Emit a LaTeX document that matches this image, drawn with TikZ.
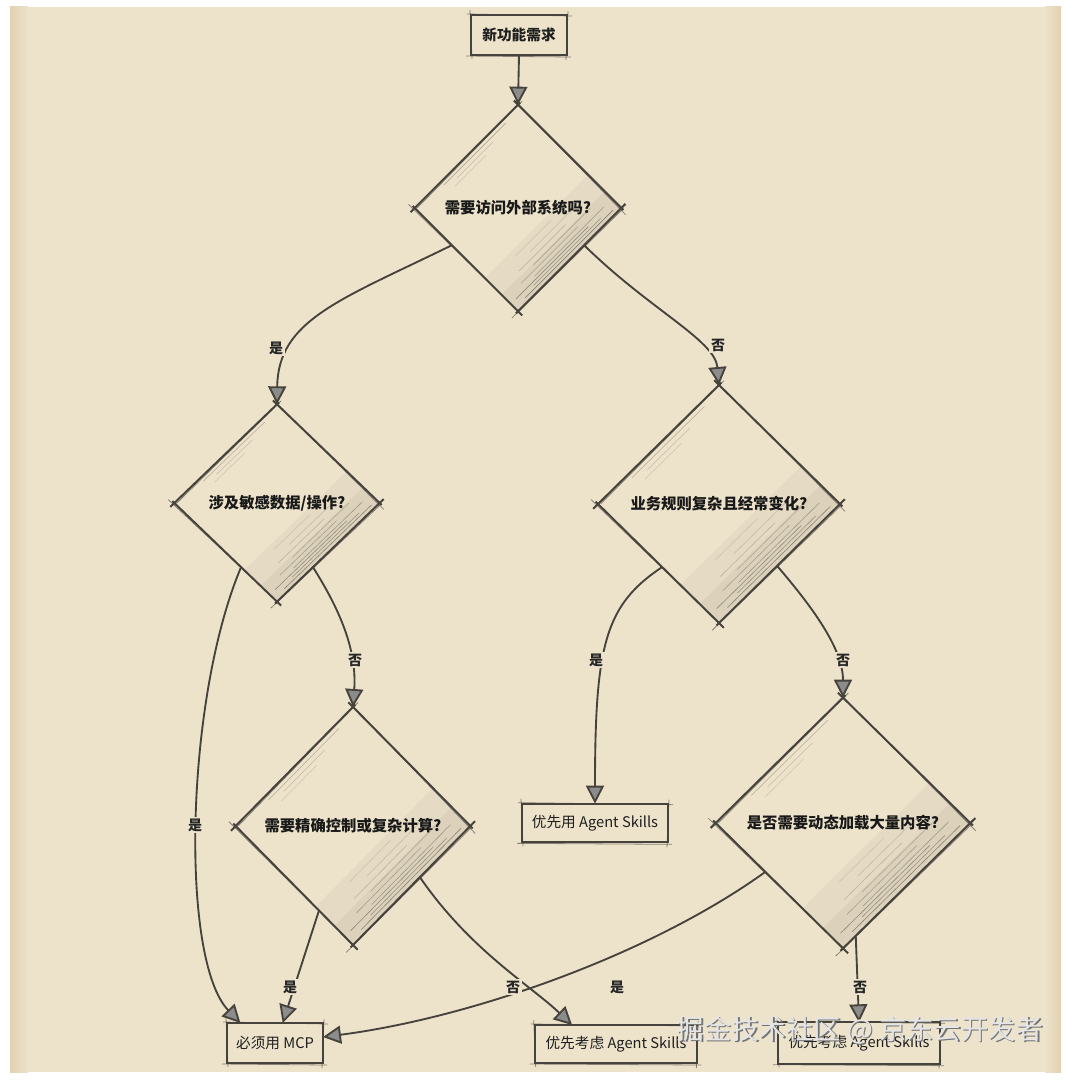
\documentclass[tikz,border=0pt]{standalone}
\usepackage{fontspec}
\newfontfamily\cjk{Noto Sans CJK SC}
\usetikzlibrary{shapes.geometric,arrows.meta,calc}
\definecolor{paper}{RGB}{237,227,203}
\definecolor{paperedge}{RGB}{224,209,176}
\definecolor{pencil}{RGB}{70,66,60}
\tikzset{
  dia/.style={shape=diamond, inner sep=0pt, outer sep=0pt, fill=paper, text=black!90,
    font=\cjk\bfseries\fontsize{11.5}{13}\selectfont},
  box/.style={rectangle, draw=pencil, line width=1.3pt, fill=paper, inner sep=0pt, outer sep=0pt,
    text=black!88, font=\cjk\fontsize{11}{13}\selectfont},
  conn/.style={draw=pencil, line width=1.4pt,
    -{Triangle[length=13.5pt,width=13.5pt,fill=black!45]}},
  lab/.style={fill=paper, inner sep=1.2pt, text=black!85,
    font=\cjk\bfseries\fontsize{10.5}{12}\selectfont},
  thinpencil/.style={draw=pencil, line width=0.6pt, opacity=0.6},
}
\newcommand\sketchdia[1]{%
  \foreach \p/\q in {north/east, east/south, south/west, west/north} {
    \draw[pencil, line width=1.5pt] ($(#1.\p)!-0.04!(#1.\q)$) -- ($(#1.\q)!-0.02!(#1.\p)$);
    \draw[thinpencil] ($($(#1.\p)!0.01!(#1.\q)$)+(1.5,1)$) -- ($($(#1.\q)!-0.05!(#1.\p)$)+(-1,1.5)$);
  }}
\newcommand\dshade[1]{%
  \begin{scope}
    \clip (#1.north) -- (#1.east) -- (#1.south) -- (#1.west) -- cycle;
    \fill[black, opacity=0.03] (#1.south) -- (#1.east) -- ($(#1.east)!0.32!(#1.north)$) -- ($(#1.south)!0.32!(#1.west)$) -- cycle;
    \fill[black, opacity=0.04] (#1.south) -- (#1.east) -- ($(#1.east)!0.16!(#1.north)$) -- ($(#1.south)!0.16!(#1.west)$) -- cycle;
    \foreach \t/\a/\b/\o in {0.03/0.10/0.95/0.55, 0.05/0.20/0.85/0.45, 0.07/0.05/0.75/0.5,
        0.09/0.25/0.92/0.4, 0.12/0.15/0.70/0.35, 0.15/0.30/0.85/0.3, 0.19/0.20/0.65/0.25,
        0.23/0.35/0.80/0.2, 0.28/0.25/0.60/0.15} {
      \draw[pencil, line width=0.45pt, opacity=\o]
        ($($(#1.south)!\t!(#1.west)$)!\a!($(#1.east)!\t!(#1.north)$)$) --
        ($($(#1.south)!\t!(#1.west)$)!\b!($(#1.east)!\t!(#1.north)$)$);
    }
    \foreach \t/\a/\b/\o in {0.03/0.25/0.85/0.35, 0.06/0.35/0.70/0.25, 0.09/0.30/0.60/0.2} {
      \draw[pencil, line width=0.4pt, opacity=\o]
        ($($(#1.west)!\t!(#1.south)$)!\a!($(#1.north)!\t!(#1.east)$)$) --
        ($($(#1.west)!\t!(#1.south)$)!\b!($(#1.north)!\t!(#1.east)$)$);
    }
  \end{scope}}
\newcommand\sketchbox[1]{%
  \draw[thinpencil] ($(#1.north west)+(-4,-1)$) -- ($(#1.north east)+(5,1)$);
  \draw[thinpencil] ($(#1.north east)+(1,-4)$) -- ($(#1.south east)+(-1,5)$);
  \draw[thinpencil] ($(#1.south east)+(4,2)$) -- ($(#1.south west)+(-5,1)$);
  \draw[thinpencil] ($(#1.south west)+(1,4)$) -- ($(#1.north west)+(-1,-5)$);
}
\begin{document}
\begin{tikzpicture}[x=0.75pt, y=-0.75pt]
\useasboundingbox (0,0) rectangle (1074,1088);
% background
\fill[white] (0,0) rectangle (1074,1088);
\fill[paper] (10,7) rectangle (1061,1072);
\shade[left color=paperedge, right color=paper] (10,7) rectangle (28,1072);
\shade[left color=paper, right color=paperedge] (1045,7) rectangle (1061,1072);

% nodes
\node[box, minimum width=72pt, minimum height=30pt, font=\cjk\bfseries\fontsize{11}{13}\selectfont] (start) at (519,35) {新功能需求};
\node[dia, minimum width=155pt, minimum height=155pt] (d1) at (518,208) {需要访问外部系统吗?};
\node[dia, minimum width=154pt, minimum height=148pt] (d2) at (277,503) {涉及敏感数据/操作?};
\node[dia, minimum width=181.5pt, minimum height=178.5pt] (d3) at (719,504) {业务规则复杂且经常变化?};
\node[dia, minimum width=176pt, minimum height=178.5pt] (d4) at (353,826) {需要精确控制或复杂计算?};
\node[dia, minimum width=191pt, minimum height=188pt] (d5) at (843,823) {是否需要动态加载大量内容?};
\node[box, minimum width=109.5pt, minimum height=29pt] (b1) at (595,823) {优先用 Agent Skills};
\node[box, minimum width=72pt, minimum height=30pt] (mcp) at (275,1043) {必须用 MCP};
\node[box, minimum width=122pt, minimum height=28.5pt] (b2) at (616,1044) {优先考虑 Agent Skills};
\node[box, minimum width=121.5pt, minimum height=31pt] (b3) at (859,1043) {优先考虑 Agent Skills};

% diamond decoration
\foreach \d in {d1,d2,d3,d4,d5} { \dshade{\d} \sketchdia{\d} }
\foreach \b in {start,b1,mcp,b2,b3} { \sketchbox{\b} }

% connectors
\draw[conn] (start.south) -- (d1.north);
\draw[conn] ($(d1.west)!0.36!(d1.south)$) .. controls (340,300) and (278,320) .. (d2.north);
\draw[conn] ($(d1.east)!0.36!(d1.south)$) .. controls (650,310) and (715,340) .. (d3.north);
\draw[conn] ($(d2.west)!0.65!(d2.south)$) .. controls (185,700) and (180,960) .. ($(mcp.north west)!0.14!(mcp.north east)$);
\draw[conn] ($(d2.east)!0.65!(d2.south)$) .. controls (340,610) and (357,650) .. (d4.north);
\draw[conn] ($(d3.west)!0.53!(d3.south)$) .. controls (605,605) and (595,645) .. (b1.north);
\draw[conn] ($(d3.east)!0.52!(d3.south)$) .. controls (815,610) and (843,650) .. (d5.north);
\draw[conn] ($(d4.west)!0.71!(d4.south)$) -- ($(mcp.north west)!0.58!(mcp.north east)$);
\draw[conn] ($(d4.east)!0.43!(d4.south)$) .. controls (470,950) and (530,985) .. ($(b2.north west)!0.23!(b2.north east)$);
\draw[conn] ($(d5.west)!0.39!(d5.south)$) .. controls (650,955) and (470,1018) .. ($(mcp.north east)!0.35!(mcp.south east)$);
\draw[conn] ($(d5.south)!0.1!(d5.east)$) -- (b3.north);

% labels
\node[lab] (l1) at (276,348) {是};
\node[lab] (l2) at (718,345) {否};
\node[lab] (l3) at (195,825) {是};
\node[lab] (l4) at (355,660) {否};
\node[lab] (l5) at (596,660) {是};
\node[lab] (l6) at (843,660) {否};
\node[lab] (l7) at (290,987) {是};
\node[lab] (l8) at (513,987) {否};
\node[lab] (l9) at (617,987) {是};
\node[lab] (l10) at (860,987) {否};

% watermark
\node[text=black!55, font=\cjk\fontsize{20.5}{24}\selectfont] (wms) at (861.5,1031.5) {掘金技术社区 @ 京东云开发者};
\node[text=white!90!black, font=\cjk\fontsize{20.5}{24}\selectfont] (wm) at (860,1030) {掘金技术社区 @ 京东云开发者};
\end{tikzpicture}
\end{document}
